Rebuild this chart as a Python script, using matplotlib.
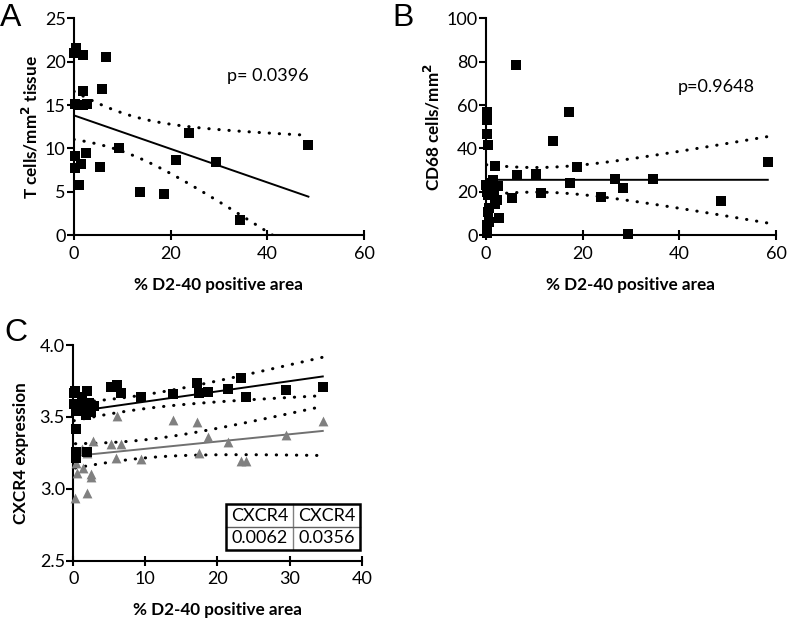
import numpy as np
import matplotlib
matplotlib.use("Agg")
import matplotlib.pyplot as plt
from matplotlib.patches import Rectangle

plt.rcParams['font.family'] = ['Lato', 'DejaVu Sans']

# ---------------- Data ----------------
# Panel A: T cells vs % D2-40 positive area
a_x = [0.0, 0.5, 1.8, 6.6, 5.9, 1.8, 0.2, 1.2, 1.8, 2.7, 23.7, 48.5, 9.3,
       0.3, 2.5, 0.3, 1.4, 5.4, 21.2, 29.4, 1.1, 13.7, 18.6, 34.3]
a_y = [21.0, 21.6, 20.8, 20.5, 16.9, 16.6, 15.1, 15.0, 15.0, 15.1, 11.8, 10.4, 10.1,
       9.1, 9.45, 7.7, 8.2, 7.9, 8.7, 8.4, 5.8, 5.0, 4.7, 1.8]
a_p = "p= 0.0396"

# Panel B: CD68 cells vs % D2-40 positive area
b_x = [6.3, 0.3, 0.3, 0.3, 0.35, 17.1, 13.8, 58.3, 1.9, 18.8, 6.5, 10.3, 26.6, 34.6,
       17.3, 28.3, 11.4, 23.8, 5.3, 48.6, 29.4,
       0.1, 1.5, 2.5, 1.0, 0.3, 1.7, 0.4, 2.2, 1.9, 0.7, 0.4, 2.6, 0.7, 0.3, 0.3, 1.2]
b_y = [78.4, 57.0, 53.3, 46.5, 41.5, 57.0, 43.3, 33.9, 32.1, 31.5, 27.7, 28.1, 26.1, 25.8,
       24.1, 21.6, 19.3, 17.7, 17.2, 15.7, 0.5,
       23.4, 25.4, 22.8, 23.9, 20.0, 19.3, 18.5, 16.2, 14.2, 12.4, 10.8, 7.8, 6.2, 4.7, 0.9, 21.0]
b_p = "p=0.9648"

# Panel C: CXCR4 expression (two series) vs % D2-40 positive area
c_x_black = [0.1, 0.3, 0.1, 1.9, 1.2, 0.8, 1.6, 2.2, 2.9, 1.75, 2.4, 0.4, 0.4, 0.4, 0.4, 1.9,
             5.3, 6.1, 6.6, 9.4, 13.8, 17.1, 17.5, 18.7, 21.4, 23.2, 24.0, 29.5, 34.6]
c_y_black = [3.664, 3.68, 3.59, 3.68, 3.636, 3.57, 3.583, 3.594, 3.578, 3.513, 3.536, 3.54,
             3.416, 3.258, 3.212, 3.258,
             3.706, 3.722, 3.668, 3.64, 3.657, 3.734, 3.664, 3.675, 3.696, 3.773, 3.636, 3.685, 3.71]
# grey series (some points partly hidden behind black squares near x = 0)
c_x_grey = [0.3, 1.9, 0.5, 1.4, 2.4, 2.5, 0.4, 1.2, 2.8, 5.3, 6.6, 6.1, 5.9, 9.4,
            13.8, 17.1, 17.5, 18.7, 21.4, 23.2, 24.0, 29.5, 34.6,
            0.3, 1.6, 0.4, 1.9]
c_y_grey = [2.938, 2.973, 3.112, 3.142, 3.084, 3.10, 3.177, 3.277, 3.335, 3.31, 3.31, 3.506,
            3.212, 3.21, 3.478, 3.467, 3.251, 3.358, 3.323, 3.193, 3.19, 3.372, 3.472,
            3.55, 3.56, 3.26, 3.25]
table_head = ["CXCR4", "CXCR4"]
table_vals = ["0.0062", "0.0356"]

x_label = "% D2-40 positive area"


def t_crit(df):
    z = 1.959964
    return (z + (z**3 + z) / (4 * df) + (5 * z**5 + 16 * z**3 + 3 * z) / (96 * df**2)
            + (3 * z**7 + 19 * z**5 + 17 * z**3 - 15 * z) / (384 * df**3))


def fit_band(x, y, n_pts=100):
    x = np.asarray(x, float)
    y = np.asarray(y, float)
    n = len(x)
    b, a = np.polyfit(x, y, 1)
    xs = np.linspace(x.min(), x.max(), n_pts)
    yhat = a + b * xs
    res = y - (a + b * x)
    s = np.sqrt(np.sum(res**2) / (n - 2))
    sxx = np.sum((x - x.mean())**2)
    se = s * np.sqrt(1.0 / n + (xs - x.mean())**2 / sxx)
    t = t_crit(n - 2)
    return xs, yhat, yhat - t * se, yhat + t * se


def style_axes(ax):
    for side in ['top', 'right']:
        ax.spines[side].set_visible(False)
    for side in ['left', 'bottom']:
        ax.spines[side].set_linewidth(1.5)
        ax.spines[side].set_color('black')
    ax.tick_params(axis='y', direction='out', length=5, width=1.5, labelsize=13, pad=1)
    ax.tick_params(axis='x', direction='inout', length=7, width=1.5, labelsize=13, pad=4)
    ax.set_xlabel(x_label, fontsize=12.3, fontweight='bold', labelpad=11)


dot_style = dict(color='black', linestyle=(0, (0.1, 3.2)), linewidth=2.2,
                 dash_capstyle='round')

fig = plt.figure(figsize=(7.87, 6.22), dpi=100)

# ---------------- Panel A ----------------
axA = fig.add_axes([0.094, 0.6217, 0.3685, 0.349])
axA.scatter(a_x, a_y, marker='s', s=62, color='black', zorder=3, clip_on=False, linewidths=0)
xs, yh, lo, hi = fit_band(a_x, a_y)
axA.plot(xs, yh, color='black', linewidth=1.4)
axA.plot(xs, lo, **dot_style)
axA.plot(xs, hi, **dot_style)
axA.set_xlim(0, 60)
axA.set_ylim(0, 25)
axA.set_xticks([0, 20, 40, 60])
axA.set_yticks([0, 5, 10, 15, 20, 25])
axA.set_ylabel("T cells/mm$^\\mathbf{2}$ tissue", fontsize=12.3, fontweight='bold', labelpad=3)
axA.text(31.6, 18.3, a_p, fontsize=13, va='center', ha='left')
style_axes(axA)

# ---------------- Panel B ----------------
axB = fig.add_axes([0.6175, 0.6217, 0.3685, 0.349])
axB.scatter(b_x, b_y, marker='s', s=62, color='black', zorder=3, clip_on=False, linewidths=0)
xs, yh, lo, hi = fit_band(b_x, b_y)
axB.plot(xs, yh, color='black', linewidth=1.4)
axB.plot(xs, lo, **dot_style)
axB.plot(xs, hi, **dot_style)
axB.set_xlim(0, 60)
axB.set_ylim(0, 100)
axB.set_xticks([0, 20, 40, 60])
axB.set_yticks([0, 20, 40, 60, 80, 100])
axB.set_ylabel("CD68 cells/mm$^\\mathbf{2}$", fontsize=12.3, fontweight='bold', labelpad=3)
axB.text(39.7, 68.2, b_p, fontsize=13, va='center', ha='left')
style_axes(axB)

# ---------------- Panel C ----------------
axC = fig.add_axes([0.0931, 0.0986, 0.3665, 0.3467])
axC.scatter(c_x_grey, c_y_grey, marker='^', s=50, color='#808080', zorder=3,
            clip_on=False, linewidths=0)
axC.scatter(c_x_black, c_y_black, marker='s', s=62, color='black', zorder=4,
            clip_on=False, linewidths=0)
xs, yh, lo, hi = fit_band(c_x_black, c_y_black)
axC.plot(xs, yh, color='black', linewidth=1.4)
axC.plot(xs, lo, **dot_style)
axC.plot(xs, hi, **dot_style)
xs, yh, lo, hi = fit_band(c_x_grey, c_y_grey)
axC.plot(xs, yh, color='#707070', linewidth=1.4)
axC.plot(xs, lo, **dot_style)
axC.plot(xs, hi, **dot_style)
axC.set_xlim(0, 40)
axC.set_ylim(2.5, 4.0)
axC.set_xticks([0, 10, 20, 30, 40])
axC.set_yticks([2.5, 3.0, 3.5, 4.0])
axC.set_yticklabels(["2.5", "3.0", "3.5", "4.0"])
axC.set_ylabel("CXCR4 expression", fontsize=12.3, fontweight='bold', labelpad=8)
style_axes(axC)

# table
tb_x0, tb_x1, tb_y0, tb_y1 = 0.5295, 0.995, 0.05, 0.2615
xmid = (tb_x0 + tb_x1) / 2
ymid = (tb_y0 + tb_y1) / 2
axC.plot([xmid, xmid], [tb_y0, tb_y1], transform=axC.transAxes, color='#808080', lw=1)
axC.plot([tb_x0, tb_x1], [ymid, ymid], transform=axC.transAxes, color='#606060', lw=1)
axC.add_patch(Rectangle((tb_x0, tb_y0), tb_x1 - tb_x0, tb_y1 - tb_y0, transform=axC.transAxes,
                        fill=False, edgecolor='black', linewidth=1.8, zorder=5))
for i, (h, v) in enumerate(zip(table_head, table_vals)):
    cx = tb_x0 + (i + 0.5) * (tb_x1 - tb_x0) / 2
    axC.text(cx, (ymid + tb_y1) / 2, h, transform=axC.transAxes, ha='center', va='center',
             fontsize=13)
    axC.text(cx, (ymid + tb_y0) / 2, v, transform=axC.transAxes, ha='center', va='center',
             fontsize=13)

# panel letters
fig.text(0.0, 0.995, "A", fontsize=23, family='Liberation Sans', va='top', ha='left')
fig.text(0.499, 0.995, "B", fontsize=23, family='Liberation Sans', va='top', ha='left')
fig.text(0.006, 0.488, "C", fontsize=23, family='Liberation Sans', va='top', ha='left')

fig.savefig("out.png", dpi=100)
